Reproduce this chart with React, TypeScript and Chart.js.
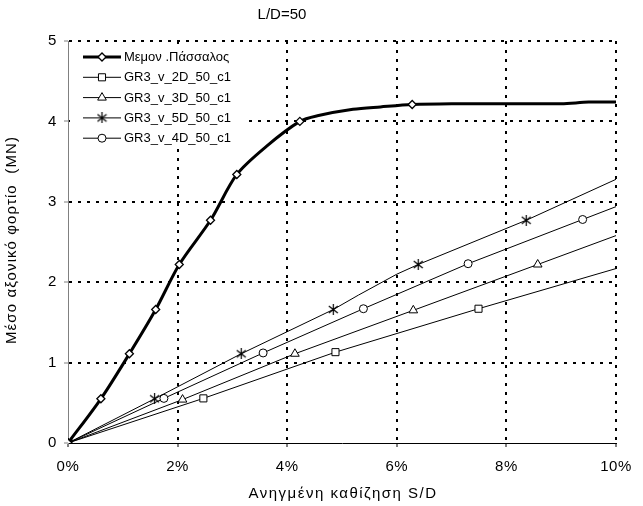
import React, { useEffect, useRef } from 'react';
import { Chart, registerables } from 'chart.js';
import { drawPoint } from 'chart.js/helpers';

Chart.register(...registerables);

// ---------- data ----------
const chartTitle = 'L/D=50';
const xAxisTitle = 'Ανηγμένη καθίζηση S/D';
const yAxisTitle = 'Μέσο αξονικό φορτίο  (MN)';

const xMin = 0;
const xMax = 10;
const xStep = 2;
const yMin = 0;
const yMax = 5;
const yStep = 1;

const seriesNames = [
  'Μεμον .Πάσσαλος',
  'GR3_v_2D_50_c1',
  'GR3_v_3D_50_c1',
  'GR3_v_5D_50_c1',
  'GR3_v_4D_50_c1',
];

// Μεμον. Πάσσαλος (single pile)
const pileX = [0, 0.6, 1.12, 1.6, 2.03, 2.6, 3.08, 3.62, 4.23, 4.55, 5.2, 5.7, 6.28, 7.0, 8.0, 9.0, 9.5, 10.0];
const pileY = [0, 0.55, 1.11, 1.66, 2.22, 2.77, 3.34, 3.69, 4.0, 4.07, 4.15, 4.18, 4.21, 4.22, 4.22, 4.22, 4.24, 4.24];
const pileMarked = [0, 1, 2, 3, 4, 5, 6, 8, 12];

// GR3_v_2D_50_c1
const g2dX = [0, 2.47, 4.88, 7.49, 10.0];
const g2dY = [0, 0.555, 1.13, 1.67, 2.17];
const g2dMarked = [0, 1, 2, 3];

// GR3_v_3D_50_c1
const g3dX = [0, 2.09, 4.14, 6.3, 8.57, 10.0];
const g3dY = [0, 0.54, 1.11, 1.65, 2.22, 2.58];
const g3dMarked = [0, 1, 2, 3, 4];

// GR3_v_5D_50_c1
const g5dX = [0, 1.58, 3.16, 4.84, 5.3, 6.0, 6.39, 8.36, 10.0];
const g5dY = [0, 0.55, 1.11, 1.66, 1.84, 2.1, 2.22, 2.77, 3.28];
const g5dMarked = [0, 1, 2, 3, 6, 7];

// GR3_v_4D_50_c1
const g4dX = [0, 1.75, 3.56, 5.39, 7.3, 9.39, 10.0];
const g4dY = [0, 0.555, 1.12, 1.67, 2.23, 2.78, 2.94];
const g4dMarked = [0, 1, 2, 3, 4, 5];

// ---------- helpers ----------
const FONT = '"Liberation Sans", Arial, Helvetica, sans-serif';

function toPoints(xs: number[], ys: number[]) {
  return xs.map((x, i) => ({ x, y: ys[i] }));
}

function makeAsterisk(): HTMLCanvasElement {
  const c = document.createElement('canvas');
  c.width = 11;
  c.height = 11;
  const g = c.getContext('2d')!;
  g.strokeStyle = '#000';
  g.lineWidth = 1.2;
  g.beginPath();
  g.moveTo(5.5, 0);
  g.lineTo(5.5, 11);
  g.moveTo(1, 2);
  g.lineTo(10, 9);
  g.moveTo(10, 2);
  g.lineTo(1, 9);
  g.stroke();
  return c;
}

export default function App() {
  const canvasRef = useRef<HTMLCanvasElement | null>(null);

  useEffect(() => {
    const canvas = canvasRef.current;
    if (!canvas) return;
    const asterisk = makeAsterisk();

    const radiusFor = (marked: number[], r: number) => (c: any) =>
      marked.includes(c.dataIndex) ? r : 0;

    const datasets: any[] = [
      {
        label: seriesNames[0],
        data: toPoints(pileX, pileY),
        borderColor: '#000',
        borderWidth: 3,
        tension: 0.3,
        pointStyle: 'rectRot',
        pointRadius: radiusFor(pileMarked, 4),
        pointBorderWidth: 1.3,
        pointBorderColor: '#000',
        pointBackgroundColor: '#fff',
        _legendRadius: 4,
      },
      {
        label: seriesNames[1],
        data: toPoints(g2dX, g2dY),
        borderColor: '#000',
        borderWidth: 1,
        tension: 0,
        pointStyle: 'rect',
        pointRadius: radiusFor(g2dMarked, 5),
        pointBorderWidth: 1,
        pointBorderColor: '#000',
        pointBackgroundColor: '#fff',
        _legendRadius: 5,
      },
      {
        label: seriesNames[2],
        data: toPoints(g3dX, g3dY),
        borderColor: '#000',
        borderWidth: 1,
        tension: 0,
        pointStyle: 'triangle',
        pointRadius: radiusFor(g3dMarked, 5),
        pointBorderWidth: 1,
        pointBorderColor: '#000',
        pointBackgroundColor: '#fff',
        _legendRadius: 5,
      },
      {
        label: seriesNames[3],
        data: toPoints(g5dX, g5dY),
        borderColor: '#000',
        borderWidth: 1,
        tension: 0,
        pointStyle: asterisk,
        pointRadius: radiusFor(g5dMarked, 5),
        pointBorderWidth: 1,
        pointBorderColor: '#000',
        pointBackgroundColor: '#fff',
        _legendRadius: 5,
      },
      {
        label: seriesNames[4],
        data: toPoints(g4dX, g4dY),
        borderColor: '#000',
        borderWidth: 1,
        tension: 0,
        pointStyle: 'circle',
        pointRadius: radiusFor(g4dMarked, 4),
        pointBorderWidth: 1,
        pointBorderColor: '#000',
        pointBackgroundColor: '#fff',
        _legendRadius: 4,
      },
    ];

    const spacingPlugin = {
      id: 'spacing',
      beforeUpdate(chart: any) {
        chart.ctx.letterSpacing = '0.6px';
      },
      beforeDraw(chart: any) {
        chart.ctx.letterSpacing = '0.6px';
      },
    };

    const decorPlugin = {
      id: 'decor',
      afterDraw(chart: any) {
        const ctx = chart.ctx as CanvasRenderingContext2D;
        const area = chart.chartArea;
        ctx.save();
        ctx.fillStyle = '#000';
        ctx.textAlign = 'center';
        ctx.textBaseline = 'middle';

        // chart title
        (ctx as any).letterSpacing = '0px';
        ctx.font = `15px ${FONT}`;
        ctx.fillText(chartTitle, area.left + 214, 15);

        // x axis title
        (ctx as any).letterSpacing = '1.5px';
        ctx.fillText(xAxisTitle, (area.left + area.right) / 2 + 1, chart.height - 12.5);

        // y axis title
        (ctx as any).letterSpacing = '1.1px';
        ctx.save();
        ctx.translate(11.5, (area.top + area.bottom) / 2 - 2);
        ctx.rotate(-Math.PI / 2);
        ctx.fillText(yAxisTitle, 0, 0);
        ctx.restore();

        // legend inside plot area
        const lx = area.left + 2;
        const ly = area.top + 4;
        ctx.fillStyle = '#fff';
        ctx.fillRect(lx, ly, 175, 103);
        const rowH = 20.3;
        const y0 = area.top + 16;
        (ctx as any).letterSpacing = '0px';
        ctx.font = `13px ${FONT}`;
        ctx.textAlign = 'left';
        datasets.forEach((ds, i) => {
          const y = y0 + i * rowH;
          ctx.strokeStyle = '#000';
          ctx.lineWidth = ds.borderWidth;
          ctx.setLineDash([]);
          ctx.beginPath();
          ctx.moveTo(area.left + 15, y);
          ctx.lineTo(area.left + 53, y);
          ctx.stroke();
          ctx.fillStyle = '#fff';
          ctx.strokeStyle = '#000';
          ctx.lineWidth = ds.pointBorderWidth;
          drawPoint(ctx, { pointStyle: ds.pointStyle, radius: ds._legendRadius, rotation: 0, borderWidth: ds.pointBorderWidth } as any, area.left + 34, y);
          ctx.fillStyle = '#000';
          ctx.fillText(ds.label, area.left + 56, y + 0.5);
        });
        ctx.restore();
      },
    };

    const gridColor = (c: any) => (c.tick && c.tick.value === 0 ? 'rgba(0,0,0,0)' : '#000');

    const chart = new Chart(canvas, {
      type: 'line',
      data: { datasets },
      options: {
        responsive: false,
        animation: false,
        devicePixelRatio: 1,
        layout: { padding: { top: 41, right: 26, left: 0, bottom: 0 } },
        plugins: {
          legend: { display: false },
          title: { display: false },
          tooltip: { enabled: false },
        },
        scales: {
          x: {
            type: 'linear',
            min: xMin,
            max: xMax,
            afterFit: (s: any) => {
              s.height = 63;
            },
            ticks: {
              stepSize: xStep,
              color: '#000',
              font: { family: FONT, size: 15 },
              padding: 11,
              maxRotation: 0,
              callback: (v: any) => `${v}%`,
            },
            grid: {
              color: gridColor,
              lineWidth: 2,
              tickColor: '#000',
              tickLength: 4,
              tickWidth: 1,
              tickBorderDash: [],
            },
            border: { color: '#000', width: 1, dash: [3, 6] },
          },
          y: {
            type: 'linear',
            min: yMin,
            max: yMax,
            afterFit: (s: any) => {
              s.width = 68;
            },
            ticks: {
              stepSize: yStep,
              color: '#000',
              font: { family: FONT, size: 15 },
              padding: 7,
            },
            grid: {
              color: gridColor,
              lineWidth: 2,
              tickColor: '#808080',
              tickLength: 4,
              tickWidth: 1,
              tickBorderDash: [],
            },
            border: { color: '#808080', width: 1, dash: [3, 6] },
          },
        },
      },
      plugins: [spacingPlugin, decorPlugin],
    } as any);

    return () => {
      chart.destroy();
    };
  }, []);

  return (
    <div style={{ position: 'fixed', left: 0, top: 0, width: 643, height: 506, background: '#fff' }}>
      <canvas ref={canvasRef} width={643} height={506} style={{ display: 'block' }} />
    </div>
  );
}
